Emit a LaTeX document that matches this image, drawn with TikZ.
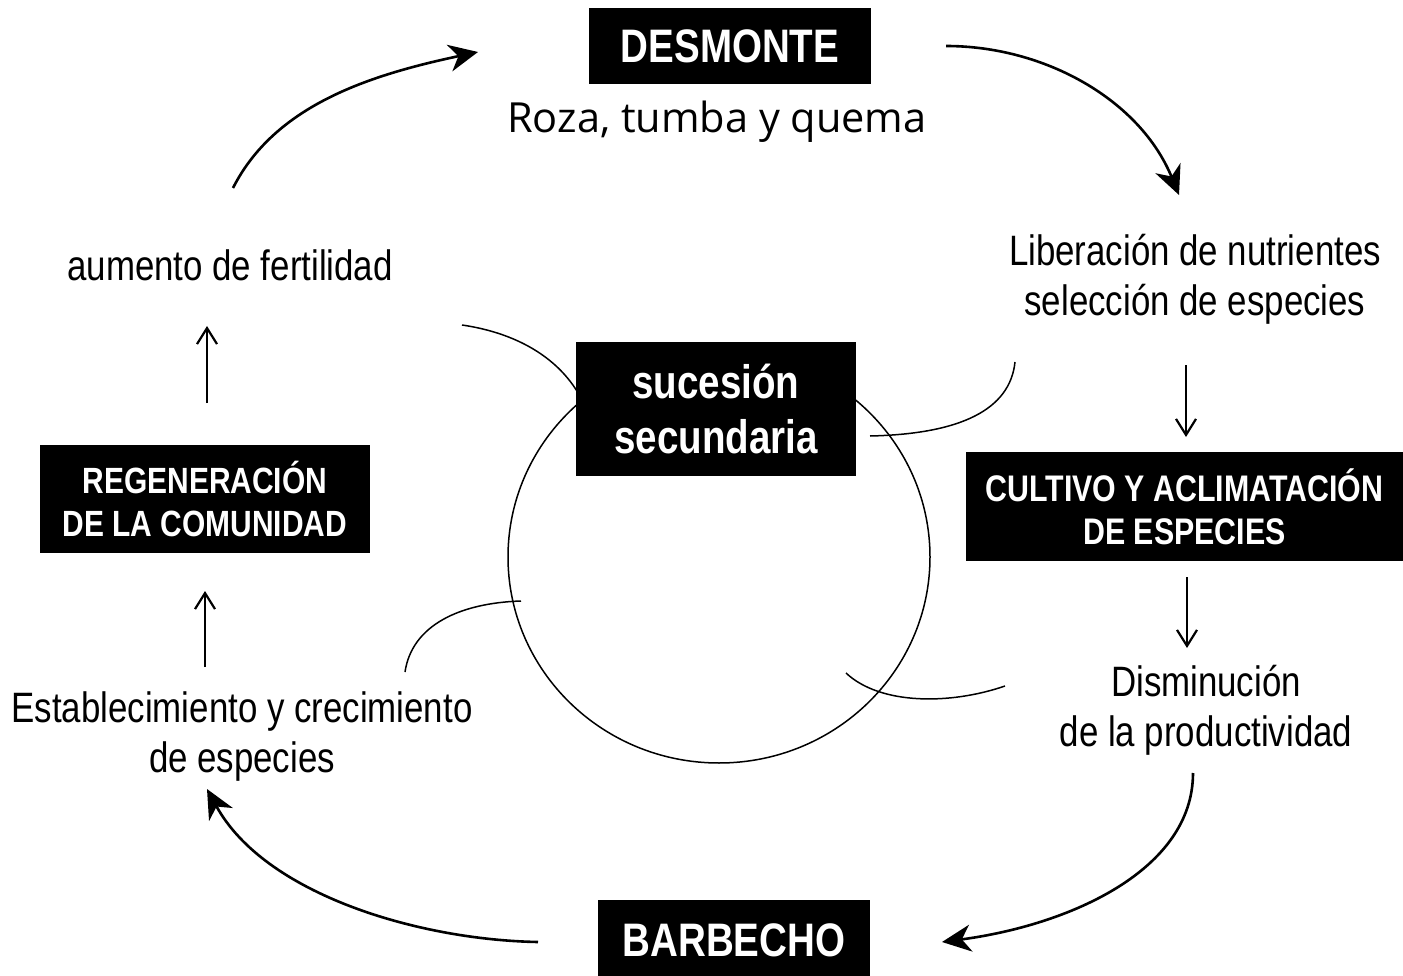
\documentclass[tikz,border=0pt]{standalone}
\usepackage{fontspec}
\usetikzlibrary{arrows.meta}
\newfontfamily\nar[FakeStretch=0.82]{Liberation Sans}
\newfontfamily\opens{Open Sans}
\begin{document}
\begin{tikzpicture}[x=1pt,y=-1pt,
  blackbox/.style={fill=black,text=white,inner sep=0pt,align=center,font=\nar\bfseries},
  lbl/.style={inner sep=0pt,align=center,anchor=base,font=\nar\fontsize{42.5}{50}\selectfont},
  bigarrow/.style={line width=2.6pt,-{Stealth[length=29pt,width=27pt,inset=9pt]}},
  smallarrow/.style={line width=2.2pt,-{Straight Barb[length=16pt,width=20pt,line width=2.2pt]}},
  thin/.style={line width=1.5pt}]
\useasboundingbox (0,0) rectangle (1403,976);

% ellipse and thin curves (drawn first, boxes cover them)
\draw[thin] (719,557) ellipse [x radius=211, y radius=206];
\coordinate (c1a) at (462,325);
\coordinate (c1b) at (590,420);
\draw[thin] (c1a) .. controls (530,335) and (575,370) .. (c1b);
\coordinate (c2a) at (1015,362);
\coordinate (c2b) at (870,436);
\draw[thin] (c2a) .. controls (1010,410) and (960,434) .. (c2b);
\coordinate (c3a) at (405,672);
\coordinate (c3b) at (521,601);
\draw[thin] (c3a) .. controls (412,625) and (460,603) .. (c3b);
\coordinate (c4a) at (1005,686);
\coordinate (c4b) at (846,673);
\draw[thin] (c4a) .. controls (950,705) and (880,705) .. (c4b);

% boxes
\node[blackbox,minimum width=282pt,minimum height=76pt,font=\nar\bfseries\fontsize{47}{54}\selectfont] (desmonte) at (730,46) {DESMONTE};
\node[blackbox,minimum width=272pt,minimum height=80pt,font=\nar\bfseries\fontsize{47}{54}\selectfont] (barbecho) at (734,940) {BARBECHO};
\node[blackbox,minimum width=280pt,minimum height=134pt,font=\nar\bfseries\fontsize{47}{55}\selectfont] (sucesion) at (716,409) {sucesión\\secundaria};
\node[blackbox,minimum width=437pt,minimum height=109pt,font=\nar\bfseries\fontsize{37}{43}\selectfont] (cultivo) at (1184.5,506.5) {CULTIVO Y ACLIMATACIÓN\\DE ESPECIES};
\node[blackbox,minimum width=330pt,minimum height=108pt,font=\nar\bfseries\fontsize{36.5}{43}\selectfont] (regen) at (205,499) {REGENERACIÓN\\DE LA COMUNIDAD};

% labels (multi-line: base = last line's baseline)
\node[inner sep=0pt,anchor=base,font=\opens\fontsize{41.5}{48}\selectfont] (roza) at (717,133) {Roza, tumba y quema};
\node[lbl] (aumento) at (230,281) {aumento de fertilidad};
\node[lbl] (liber) at (1195,316) {Liberación de nutrientes\\selección de especies};
\node[lbl] (dismin) at (1206,746) {Disminución\\de la productividad};
\node[lbl] (estab) at (242,772) {Establecimiento y crecimiento\\de especies};

% big curved arrows
\coordinate (a1s) at (233,188); \coordinate (a1e) at (478,52);
\draw[bigarrow] (a1s) .. controls (275,105) and (370,75) .. (a1e);
\coordinate (a2s) at (946,46); \coordinate (a2e) at (1179,195);
\draw[bigarrow] (a2s) .. controls (1045,46) and (1140,100) .. (a2e);
\coordinate (a3s) at (1193,773); \coordinate (a3e) at (942,942);
\draw[bigarrow] (a3s) .. controls (1193,870) and (1070,925) .. (a3e);
\coordinate (a4s) at (538,942); \coordinate (a4e) at (207,789);
\draw[bigarrow] (a4s) .. controls (420,940) and (265,895) .. (a4e);

% small straight arrows
\coordinate (s1s) at (207,403); \coordinate (s1e) at (207,326);
\draw[smallarrow] (s1s) -- (s1e);
\coordinate (s2s) at (205,667); \coordinate (s2e) at (205,591);
\draw[smallarrow] (s2s) -- (s2e);
\coordinate (s3s) at (1186,365); \coordinate (s3e) at (1186,437);
\draw[smallarrow] (s3s) -- (s3e);
\coordinate (s4s) at (1187,577); \coordinate (s4e) at (1187,648);
\draw[smallarrow] (s4s) -- (s4e);
\end{tikzpicture}
\end{document}
